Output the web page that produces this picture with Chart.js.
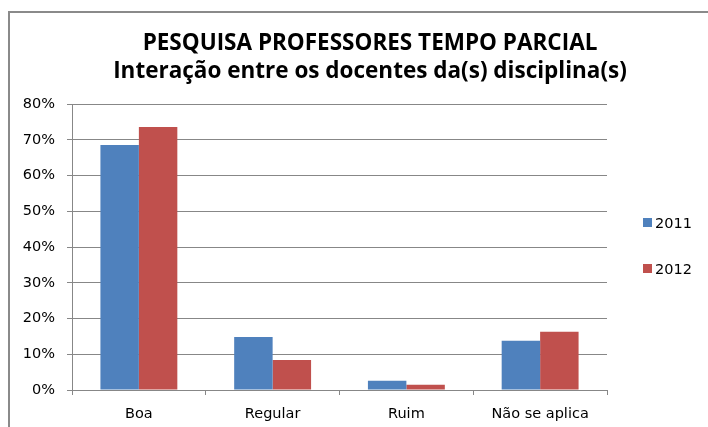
<!DOCTYPE html>
<html>
<head>
<meta charset="utf-8">
<script src="https://cdn.jsdelivr.net/npm/chart.js"></script>
<style>
  html, body { margin: 0; padding: 0; background: #fff; }
  #wrap { position: relative; width: 708px; height: 427px; overflow: hidden; }
  #frame { position: absolute; left: 8px; top: 11px; width: 760px; height: 480px;
           border-left: 2px solid #8a8a8a; border-top: 2px solid #8a8a8a; }
  canvas { position: absolute; left: 0; top: 0; }
</style>
</head>
<body>
<div id="wrap">
  <div id="frame"></div>
  <canvas id="c" width="708" height="427"></canvas>
</div>
<script>
const titleLines = ['PESQUISA PROFESSORES TEMPO PARCIAL', 'Interação entre os docentes da(s) disciplina(s)'];
const categories = ['Boa', 'Regular', 'Ruim', 'Não se aplica'];
const seriesLabels = ['2011', '2012'];
const values2011 = [68.5, 14.8, 2.6, 13.8];
const values2012 = [73.6, 8.4, 1.5, 16.3];
const yMin = 0, yMax = 80, yStep = 10;

const BLUE = '#4F81BD', RED = '#C0504D', GRID = '#878787';
const FONT = 'DejaVu Sans';

const titlePlugin = {
  id: 'fixedTitle',
  afterDraw(chart) {
    const ctx = chart.ctx;
    ctx.save();
    ctx.font = 'bold 22.5px "Open Sans"';
    ctx.fillStyle = '#000';
    ctx.textAlign = 'center';
    ctx.textBaseline = 'alphabetic';
    ctx.fillText(titleLines[0], 370, 50);
    ctx.fillText(titleLines[1], 370, 78);
    ctx.restore();
  }
};

const legendPlugin = {
  id: 'sideLegend',
  afterDraw(chart) {
    const ctx = chart.ctx;
    ctx.save();
    ctx.font = '14.5px "' + FONT + '"';
    ctx.textBaseline = 'middle';
    ctx.textAlign = 'left';
    chart.data.datasets.forEach((ds, i) => {
      const y = 223 + i * 46;
      ctx.fillStyle = ds.backgroundColor;
      ctx.fillRect(643, y - 5, 9, 9);
      ctx.fillStyle = '#000';
      ctx.fillText(ds.label, 655, y + 1);
    });
    ctx.restore();
  }
};

new Chart(document.getElementById('c'), {
  type: 'bar',
  data: {
    labels: categories,
    datasets: [
      { label: seriesLabels[0], data: values2011, backgroundColor: BLUE },
      { label: seriesLabels[1], data: values2012, backgroundColor: RED }
    ]
  },
  options: {
    responsive: false,
    animation: false,
    devicePixelRatio: 1,
    layout: { padding: { left: 0, right: 101, top: 104, bottom: 0 } },
    datasets: { bar: { categoryPercentage: 0.575, barPercentage: 1.0 } },
    plugins: {
      legend: { display: false },
      tooltip: { enabled: false },
      title: { display: false }
    },
    scales: {
      x: {
        grid: { drawOnChartArea: false, offset: true, tickLength: 5, color: GRID, tickColor: GRID },
        border: { color: GRID, width: 1 },
        ticks: { color: '#000', font: { family: FONT, size: 14.5 }, padding: 11, maxRotation: 0 },
        afterFit(scale) { scale.height = 37; }
      },
      y: {
        min: yMin, max: yMax,
        grid: { color: GRID, tickLength: 5, tickColor: GRID },
        border: { color: GRID, width: 1 },
        ticks: { stepSize: yStep, color: '#000', font: { family: FONT, size: 14.5 }, padding: 12,
                 callback: v => v + '%' },
        afterFit(scale) { scale.width = 72; }
      }
    }
  },
  plugins: [titlePlugin, legendPlugin]
});
</script>
</body>
</html>
